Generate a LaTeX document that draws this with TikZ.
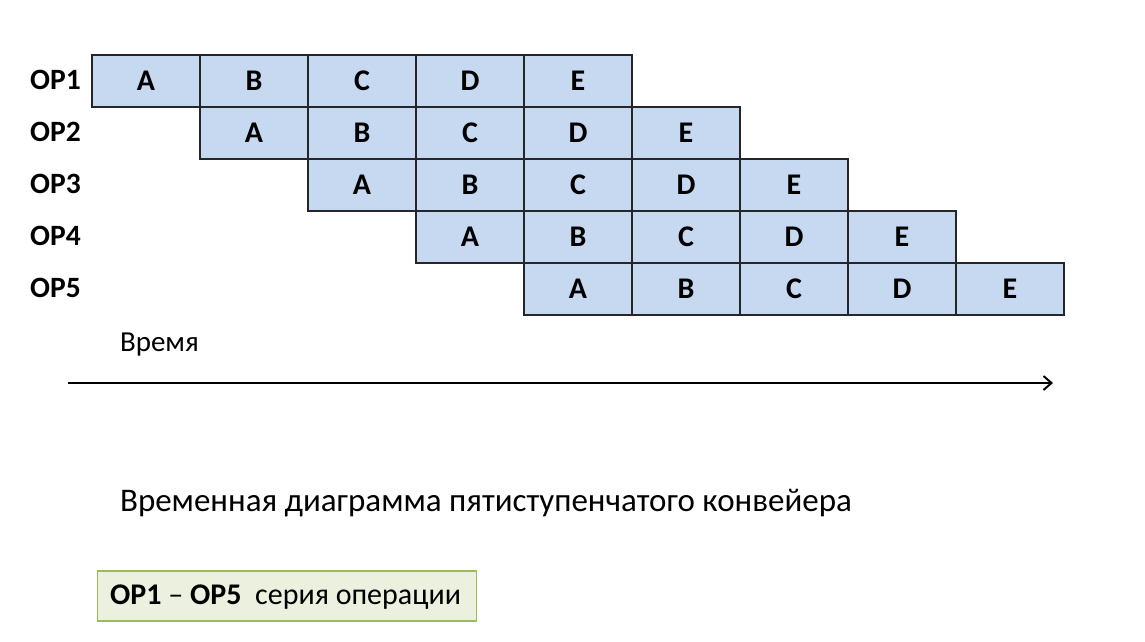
\documentclass[tikz,border=0pt]{standalone}
\usepackage{fontspec}
\setmainfont{Carlito}
\usetikzlibrary{positioning, arrows.meta}
\definecolor{cellblue}{RGB}{198,217,240}
\definecolor{notefill}{RGB}{235,241,222}
\definecolor{noteline}{RGB}{155,187,89}

\begin{document}
\begin{tikzpicture}[x=1pt, y=-1pt,
  cell/.style={draw=black!85, line width=1.2pt, fill=cellblue, minimum width=108pt, minimum height=52pt, inner sep=0pt, font=\fontsize{30}{34}\selectfont\bfseries},
  oplabel/.style={anchor=west, inner sep=0pt, font=\fontsize{29.5}{34}\selectfont\bfseries},
  plain/.style={anchor=west, inner sep=0pt}]
\useasboundingbox (0,0) rectangle (1145,642);
% five rows of the pipeline
\foreach \r in {0,...,4} {
  \pgfmathtruncatemacro{\n}{\r+1}
  \node[oplabel] (op\n) at (30, 80+52*\r) {OP\n};
  \foreach \c/\lab in {0/A,1/B,2/C,3/D,4/E}
    \node[cell] (c\r\c) at (146+108*\r+108*\c, 81+52*\r) {\lab};
}
\node[plain, font=\fontsize{29}{34}\selectfont] (time) at (120, 345) {Время};
\coordinate (t0) at (68, 383);
\coordinate (t1) at (1053, 383);
\draw[line width=2pt, -{Straight Barb[length=8pt, width=14pt]}] (t0) -- (t1);
\node[plain, font=\fontsize{33}{38}\selectfont] (title) at (120, 503) {Временная диаграмма пятиступенчатого конвейера};
\node[draw=noteline, line width=1.2pt, fill=notefill, anchor=west, minimum width=379pt, minimum height=50pt, inner sep=0pt] (note) at (97, 596) {};
\node[plain, font=\fontsize{30}{34}\selectfont] (notetext) at (110, 597) {\textbf{OP1} – \textbf{OP5}\ \ серия операции};
\end{tikzpicture}
\end{document}
